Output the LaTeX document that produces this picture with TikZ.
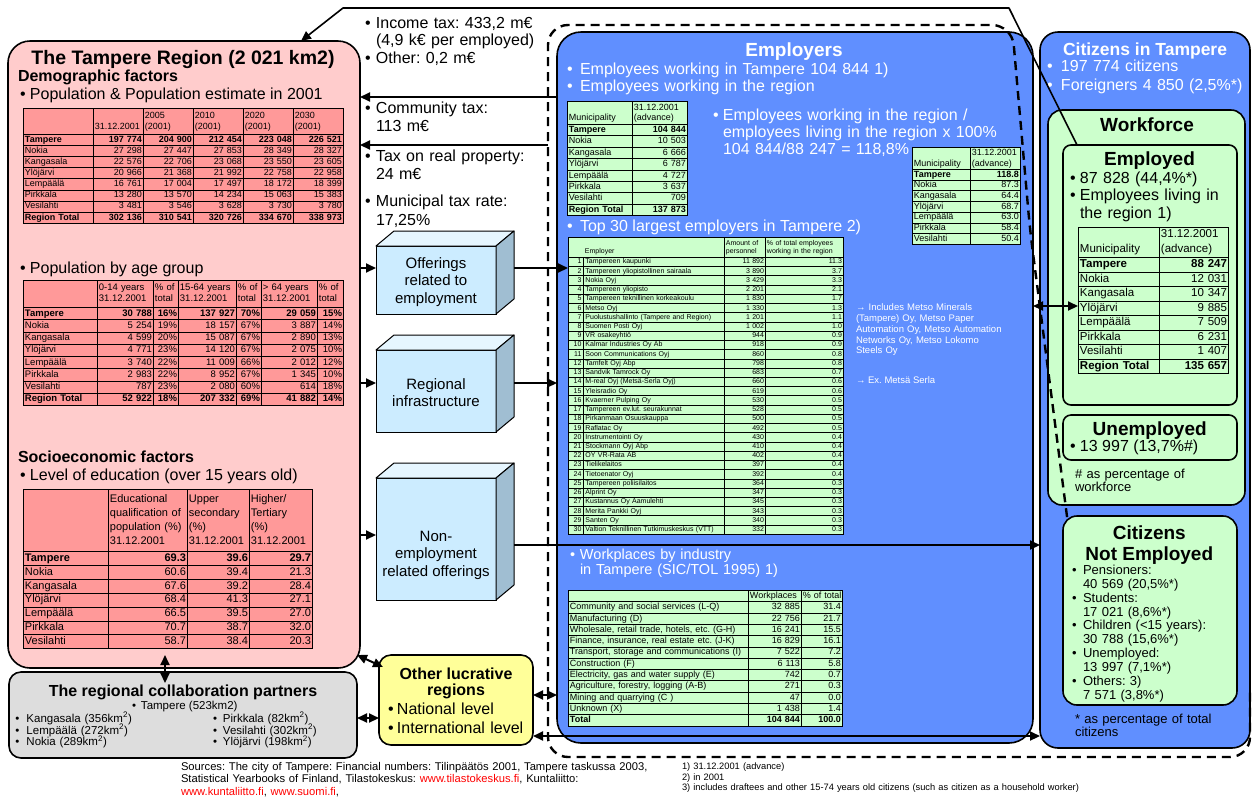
\documentclass[tikz,border=0pt]{standalone}
\usepackage{fontspec}
\setmainfont{Liberation Sans}
\usetikzlibrary{matrix,arrows.meta}

\definecolor{pinkbg}{RGB}{255,204,204}
\definecolor{pinktab}{RGB}{255,153,153}
\definecolor{graybg}{RGB}{221,221,221}
\definecolor{yellowbg}{RGB}{255,255,153}
\definecolor{bluebg}{RGB}{96,143,255}
\definecolor{greenbg}{RGB}{204,255,204}
\definecolor{cfront}{RGB}{204,236,255}
\definecolor{ctop}{RGB}{230,246,255}
\definecolor{cside}{RGB}{160,190,210}
\definecolor{linkred}{RGB}{255,0,0}

\newcommand\fsz[2]{\fontsize{#1}{#2}\selectfont}
\newcommand\bulletbox[1]{\makebox[#1][l]{•}}
\newcommand\empno[1]{\makebox[11.5pt][r]{#1}\hspace{4pt}}

\tikzset{
  panel/.style={draw, line width=1.6pt, anchor=north west, inner sep=0pt, outer sep=0pt},
  lbl/.style={anchor=base west, inner sep=0pt, outer sep=0pt},
  para/.style={anchor=base west, inner sep=0pt, outer sep=0pt, align=left, text width=#1},
  ttl/.style={anchor=base, inner sep=0pt, outer sep=0pt},
  tbl/.style n args={5}{matrix of nodes, nodes in empty cells, anchor=north west,
    row sep=-0.9pt, column sep=-0.9pt, inner sep=0pt, outer sep=0pt,
    nodes={draw, line width=0.9pt, anchor=center, inner xsep=1.5pt, inner ysep=0pt,
      outer sep=0pt, font=\fsz{#1}{#2}, minimum height=#3,
      text height=#4, text depth=#5, align=right}},
  cL/.style 2 args={column #1/.style={nodes={text width=#2-3pt, align=left}}},
  cR/.style 2 args={column #1/.style={nodes={text width=#2-3pt}}},
  headrow/.style 2 args={row 1/.style={nodes={minimum height=#1, text depth=#2, align=left}}},
  boldrow/.style={row #1/.style={nodes={execute at begin node=\bfseries}}},
  cubebox/.style={draw, line width=1pt, fill=cfront, inner sep=0pt, outer sep=0pt},
  cubeedge/.style={draw, line width=1pt, line join=round},
  cubetxt/.style={align=center, inner sep=0pt, font=\fsz{15}{17.5}},
  arr/.style={line width=2pt, -{Triangle[length=10pt,width=9pt]}},
  darr/.style={line width=2pt, {Triangle[length=10pt,width=9pt]}-{Triangle[length=10pt,width=9pt]}},
  dashline/.style={line width=2.4pt, dash pattern=on 9pt off 6pt, rounded corners=20pt},
}

% a box drawn in perspective: front face node plus top and side faces
\newcommand\drawcube[5]{%
  \node[cubebox, minimum width=#4, minimum height=#5] (#1) at (#2,#3) {};
  \filldraw[cubeedge, fill=ctop] (#1.north west) -- ++(18,-15) -- ++(#4,0) -- (#1.north east) -- cycle;
  \filldraw[cubeedge, fill=cside] (#1.north east) -- ++(18,-15) -- ++(0,#5) -- (#1.south east) -- cycle;
  \coordinate (#1r) at ([xshift=18pt]#1.east);
}

\begin{document}
\frenchspacing
\begin{tikzpicture}[x=1pt,y=-1pt]
\useasboundingbox (0,0) rectangle (1252,796);

% ---------- panels ----------
\node[panel, fill=pinkbg, rounded corners=22pt, minimum width=352, minimum height=627] (region) at (8,41) {};
\node[panel, fill=graybg, rounded corners=12pt, minimum width=348, minimum height=86] (partners) at (9,672) {};
\node[panel, fill=yellowbg, rounded corners=12pt, minimum width=154, minimum height=90] (lucr) at (379,655) {};
\node[panel, fill=bluebg, rounded corners=24pt, minimum width=476, minimum height=711] (employers) at (557,32) {};
\node[panel, fill=bluebg, rounded corners=18pt, minimum width=210, minimum height=716] (citizens) at (1040,32) {};
\node[panel, fill=greenbg, rounded corners=14pt, minimum width=197, minimum height=395] (workforce) at (1048,110) {};
\node[panel, fill=greenbg, rounded corners=8pt, minimum width=174, minimum height=260] (employed) at (1063,145) {};
\node[panel, fill=greenbg, rounded corners=8pt, minimum width=174, minimum height=45] (unemployed) at (1063,415) {};

% ---------- offering boxes ----------
\drawcube{cube1}{436}{280}{120}{68}
\drawcube{cube2}{436}{391}{120}{82}
\drawcube{cube3}{436}{539}{120}{122}
\node[cubetxt] (cube1t) at (436,282) {Offerings\\related to\\employment};
\node[cubetxt] (cube2t) at (436,392.5) {Regional\\infrastructure};
\node[cubetxt] (cube3t) at (436,555) {Non-\\employment\\related offerings};

% ---------- Tampere region ----------
\node[ttl, font=\fsz{19.5}{22}\bfseries] (regtitle) at (183,64.5) {The Tampere Region (2 021 km2)};
\node[lbl, font=\fsz{16}{18}\bfseries] (demo) at (18,81.5) {Demographic factors};
\node[lbl, font=\fsz{16}{18}] (popest) at (20,99) {\bulletbox{10pt}Population \& Population estimate in 2001};

\matrix (poptab) [tbl={9}{11}{11.1pt}{6.7pt}{2pt}, nodes={fill=pinktab},
  cL={1}{70pt}, cR={2}{50pt}, cR={3}{50pt}, cR={4}{50pt}, cR={5}{50pt}, cR={6}{50pt},
  headrow={26pt}{13pt}, boldrow=2, boldrow=9] at (23,108) {
  & {\mbox{}\\31.12.2001} & {2005\\(2001)} & {2010\\(2001)} & {2020\\(2001)} & {2030\\(2001)} \\
  Tampere & 197 774 & 204 900 & 212 454 & 223 048 & 226 521 \\
  Nokia & 27 298 & 27 447 & 27 853 & 28 349 & 28 327 \\
  Kangasala & 22 576 & 22 706 & 23 068 & 23 550 & 23 605 \\
  Ylöjärvi & 20 966 & 21 368 & 21 992 & 22 758 & 22 958 \\
  Lempäälä & 16 761 & 17 004 & 17 497 & 18 172 & 18 399 \\
  Pirkkala & 13 280 & 13 570 & 14 234 & 15 063 & 15 383 \\
  Vesilahti & 3 481 & 3 546 & 3 628 & 3 730 & 3 780 \\
  Region Total & 302 136 & 310 541 & 320 726 & 334 670 & 338 973 \\
};

\node[lbl, font=\fsz{16}{18}] (popage) at (20,273.3) {\bulletbox{10pt}Population by age group};
\matrix (agetab) [tbl={9.5}{11}{12.25pt}{7pt}{2.1pt}, nodes={fill=pinktab},
  cL={1}{74pt}, cR={2}{56pt}, cR={3}{25pt}, cR={4}{58pt}, cR={5}{25pt}, cR={6}{56pt}, cR={7}{26pt},
  headrow={27pt}{13.1pt}, boldrow=2, boldrow=9] at (23,280) {
  & {0-14 years\\31.12.2001} & {\% of\\total} & {15-64 years\\31.12.2001} & {\% of\\total} & {> 64 years\\31.12.2001} & {\% of\\total} \\
  Tampere & 30 788 & 16\% & 137 927 & 70\% & 29 059 & 15\% \\
  Nokia & 5 254 & 19\% & 18 157 & 67\% & 3 887 & 14\% \\
  Kangasala & 4 599 & 20\% & 15 087 & 67\% & 2 890 & 13\% \\
  Ylöjärvi & 4 771 & 23\% & 14 120 & 67\% & 2 075 & 10\% \\
  Lempäälä & 3 740 & 22\% & 11 009 & 66\% & 2 012 & 12\% \\
  Pirkkala & 2 983 & 22\% & 8 952 & 67\% & 1 345 & 10\% \\
  Vesilahti & 787 & 23\% & 2 080 & 60\% & 614 & 18\% \\
  Region Total & 52 922 & 18\% & 207 332 & 69\% & 41 882 & 14\% \\
};

\node[lbl, font=\fsz{16}{18}\bfseries] (socio) at (18,462.7) {Socioeconomic factors};
\node[lbl, font=\fsz{16}{18}] (edu) at (20,480) {\bulletbox{10pt}Level of education (over 15 years old)};
\matrix (edutab) [tbl={11}{13.8}{13.9pt}{8.1pt}{2.4pt}, nodes={fill=pinktab},
  cL={1}{85pt}, cR={2}{79pt}, cR={3}{62pt}, cR={4}{63pt},
  headrow={62pt}{43.8pt}, boldrow=2] at (23,489) {
  & {Educational\\qualification of\\population (\%)\\31.12.2001} & {Upper\\secondary\\(\%)\\31.12.2001} & {Higher/\\Tertiary\\(\%)\\31.12.2001} \\
  Tampere & 69.3 & 39.6 & 29.7 \\
  Nokia & 60.6 & 39.4 & 21.3 \\
  Kangasala & 67.6 & 39.2 & 28.4 \\
  Ylöjärvi & 68.4 & 41.3 & 27.1 \\
  Lempäälä & 66.5 & 39.5 & 27.0 \\
  Pirkkala & 70.7 & 38.7 & 32.0 \\
  Vesilahti & 58.7 & 38.4 & 20.3 \\
};

% ---------- tax flows ----------
\node[para=185pt, font=\fsz{16}{17.5}] (taxinc) at (365,28.3) {\bulletbox{11pt}Income tax: 433,2 m€\\\hspace*{11pt}(4,9 k€ per employed)\\\bulletbox{11pt}Other: 0,2 m€};
\node[para=185pt, font=\fsz{16}{18.4}] (taxcom) at (365,113.3) {\bulletbox{11pt}Community tax:\\\hspace*{11pt}113 m€};
\node[para=185pt, font=\fsz{16}{18.4}] (taxprop) at (365,161) {\bulletbox{11pt}Tax on real property:\\\hspace*{11pt}24 m€};
\node[para=185pt, font=\fsz{16}{18.4}] (taxrate) at (365,206.7) {\bulletbox{11pt}Municipal tax rate:\\\hspace*{11pt}17,25\%};

% ---------- employers ----------
\node[ttl, font=\fsz{19}{22}\bfseries, text=white] (emptitle) at (794,56) {Employers};
\node[para=330pt, font=\fsz{16}{17.7}, text=white] (empb) at (567,74) {\bulletbox{13pt}Employees working in Tampere 104 844 1)\\\bulletbox{13pt}Employees working in the region};
\node[para=300pt, font=\fsz{16}{17.2}, text=white] (empratio) at (713,120) {\bulletbox{10pt}Employees working in the region /\\\hspace*{10pt}employees living in the region x 100\%\\\hspace*{10pt}104 844/88 247 = 118,8\%};

\matrix (emptab) [tbl={9}{10.5}{11.4pt}{6.7pt}{2pt}, nodes={fill=greenbg},
  cL={1}{65pt}, cR={2}{55pt}, headrow={23pt}{12.5pt}, boldrow=2, boldrow=9] at (567,101) {
  {\mbox{}\\Municipality} & {31.12.2001\\(advance)} \\
  Tampere & 104 844 \\
  Nokia & 10 503 \\
  Kangasala & 6 666 \\
  Ylöjärvi & 6 787 \\
  Lempäälä & 4 727 \\
  Pirkkala & 3 637 \\
  Vesilahti & 709 \\
  Region Total & 137 873 \\
};

\matrix (ratiotab) [tbl={9}{10.5}{10.7pt}{6.7pt}{2pt}, nodes={fill=greenbg},
  cL={1}{58pt}, cR={2}{50pt}, headrow={22pt}{12.5pt}, boldrow=2] at (912,147) {
  {\mbox{}\\Municipality} & {31.12.2001\\(advance)} \\
  Tampere & 118.8 \\
  Nokia & 87.3 \\
  Kangasala & 64.4 \\
  Ylöjärvi & 68.7 \\
  Lempäälä & 63.0 \\
  Pirkkala & 58.4 \\
  Vesilahti & 50.4 \\
};

\node[lbl, font=\fsz{16}{18}, text=white] (top30t) at (567,231.6) {\bulletbox{13pt}Top 30 largest employers in Tampere 2)};
\matrix (t30) [tbl={7}{8}{9.23pt}{5.2pt}{1.5pt}, nodes={fill=greenbg},
  cL={1}{156pt}, cR={2}{41pt}, cR={3}{78pt}, headrow={20pt}{9.5pt}] at (568,237) {
  {\mbox{}\\\hspace*{15pt}Employer} & {Amount of\\personnel} & {\% of total employees\\working in the region} \\
  \empno{1}Tampereen kaupunki & 11 892 & 11.3 \\
  \empno{2}Tampereen yliopistollinen sairaala & 3 890 & 3.7 \\
  \empno{3}Nokia Oyj & 3 429 & 3.3 \\
  \empno{4}Tampereen yliopisto & 2 201 & 2.1 \\
  \empno{5}Tampereen teknillinen korkeakoulu & 1 830 & 1.7 \\
  \empno{6}Metso Oyj & 1 330 & 1.3 \\
  \empno{7}Puolustushallinto (Tampere and Region) & 1 201 & 1.1 \\
  \empno{8}Suomen Posti Oyj & 1 002 & 1.0 \\
  \empno{9}VR osakeyhtiö & 944 & 0.9 \\
  \empno{10}Kalmar Industries Oy Ab & 918 & 0.9 \\
  \empno{11}Soon Communications Oyj & 860 & 0.8 \\
  \empno{12}Tamfelt Oyj Abp & 798 & 0.8 \\
  \empno{13}Sandvik Tamrock Oy & 683 & 0.7 \\
  \empno{14}M-real Oyj (Metsä-Serla Oyj) & 660 & 0.6 \\
  \empno{15}Yleisradio Oy & 619 & 0.6 \\
  \empno{16}Kvaerner Pulping Oy & 530 & 0.5 \\
  \empno{17}Tampereen ev.lut. seurakunnat & 528 & 0.5 \\
  \empno{18}Pirkanmaan Osuuskauppa & 500 & 0.5 \\
  \empno{19}Raflatac Oy & 492 & 0.5 \\
  \empno{20}Instrumentointi Oy & 430 & 0.4 \\
  \empno{21}Stockmann Oyj Abp & 410 & 0.4 \\
  \empno{22}OY VR-Rata AB & 402 & 0.4 \\
  \empno{23}Tielikelaitos & 397 & 0.4 \\
  \empno{24}Tietoenator Oyj & 392 & 0.4 \\
  \empno{25}Tampereen poliisilaitos & 364 & 0.3 \\
  \empno{26}Alprint Oy & 347 & 0.3 \\
  \empno{27}Kustannus Oy Aamulehti & 345 & 0.3 \\
  \empno{28}Merita Pankki Oyj & 343 & 0.3 \\
  \empno{29}Santen Oy & 340 & 0.3 \\
  \empno{30}Valtion Teknillinen Tutkimuskeskus (VTT) & 332 & 0.3 \\
};
\draw[line width=0.9pt] ([xshift=15pt]t30-2-1.north west) -- ([xshift=15pt]t30-31-1.south west);

\node[para=180pt, font=\fsz{9.5}{10.8}, text=white] (metso) at (856,310.7) {→ Includes Metso Minerals\\(Tampere) Oy, Metso Paper\\Automation Oy, Metso Automation\\Networks Oy, Metso Lokomo\\Steels Oy};
\node[lbl, font=\fsz{9.5}{10.8}, text=white] (metsa) at (856,383.3) {→ Ex. Metsä Serla};

\node[para=260pt, font=\fsz{14.5}{15}, text=white] (wpt) at (570,559.3) {\bulletbox{10pt}Workplaces by industry\\\hspace*{10pt}in Tampere (SIC/TOL 1995) 1)};
\matrix (wptab) [tbl={9}{11}{11.3pt}{6.7pt}{2pt}, nodes={fill=greenbg},
  cL={1}{180pt}, cR={2}{53pt}, cR={3}{41pt}, headrow={11.3pt}{2pt}, boldrow=12] at (568,590) {
  & Workplaces & \mbox{\% of total} \\
  Community and social services (L-Q) & 32 885 & 31.4 \\
  Manufacturing (D) & 22 756 & 21.7 \\
  Wholesale, retail trade, hotels, etc. (G-H) & 16 241 & 15.5 \\
  Finance, insurance, real estate etc. (J-K) & 16 829 & 16.1 \\
  Transport, storage and communications (I) & 7 522 & 7.2 \\
  Construction (F) & 6 113 & 5.8 \\
  Electricity, gas and water supply (E) & 742 & 0.7 \\
  Agriculture, forestry, logging (A-B) & 271 & 0.3 \\
  Mining and quarrying (C ) & 47 & 0.0 \\
  Unknown (X) & 1 438 & 1.4 \\
  Total & 104 844 & 100.0 \\
};

% ---------- citizens ----------
\node[ttl, font=\fsz{17.5}{20}\bfseries, text=white] (cittitle) at (1145,55) {Citizens in Tampere};
\node[para=205pt, font=\fsz{16}{18.3}, text=white] (citb) at (1047,71.7) {\bulletbox{14pt}197 774 citizens\\\bulletbox{14pt}Foreigners 4 850 (2,5\%*)};
\node[ttl, font=\fsz{19}{22}\bfseries] (wftitle) at (1147,131.7) {Workforce};
\node[ttl, font=\fsz{19}{22}\bfseries] (emdtitle) at (1149.5,165) {Employed};
\node[para=165pt, font=\fsz{16}{17.5}] (emdb) at (1070,183.3) {\bulletbox{10pt}87 828 (44,4\%*)\\\bulletbox{10pt}Employees living in\\\hspace*{10pt}the region 1)};
\matrix (mtab) [tbl={11.5}{15}{14.5pt}{8.5pt}{2.5pt}, nodes={fill=greenbg},
  cL={1}{81pt}, cR={2}{69pt}, headrow={30pt}{17.5pt}, boldrow=2, boldrow=9] at (1078,227) {
  {\mbox{}\\Municipality} & {31.12.2001\\(advance)} \\
  Tampere & 88 247 \\
  Nokia & 12 031 \\
  Kangasala & 10 347 \\
  Ylöjärvi & 9 885 \\
  Lempäälä & 7 509 \\
  Pirkkala & 6 231 \\
  Vesilahti & 1 407 \\
  Region Total & 135 657 \\
};
\node[ttl, font=\fsz{19}{22}\bfseries] (unemtitle) at (1149.7,435) {Unemployed};
\node[lbl, font=\fsz{16}{18}] (unemb) at (1070,451.7) {\bulletbox{10pt}13 997 (13,7\%\#)};
\node[para=165pt, font=\fsz{13}{13.4}] (wfnote) at (1075,478.3) {\# as percentage of\\workforce};

% ---------- partners and other regions ----------
\node[ttl, font=\fsz{16}{18}\bfseries] (parttitle) at (183,696) {The regional collaboration partners};
\node[lbl, font=\fsz{11.5}{12}] (parttre) at (132,709.7) {\bulletbox{9pt}Tampere (523km2)};
\node[para=190pt, font=\fsz{11.5}{11.7}, execute at begin node={\lineskiplimit=-20pt}] (partl) at (15.5,722.3) {\bulletbox{11pt}Kangasala (356km\textsuperscript{2})\\\bulletbox{11pt}Lempäälä (272km\textsuperscript{2})\\\bulletbox{11pt}Nokia (289km\textsuperscript{2})};
\node[para=140pt, font=\fsz{11.5}{11.7}, execute at begin node={\lineskiplimit=-20pt}] (partr) at (213,722.3) {\bulletbox{10pt}Pirkkala (82km\textsuperscript{2})\\\bulletbox{10pt}Vesilahti (302km\textsuperscript{2})\\\bulletbox{10pt}Ylöjärvi (198km\textsuperscript{2})};

\node[ttl, font=\fsz{16}{17}\bfseries] (lucrt1) at (456,679) {Other lucrative};
\node[ttl, font=\fsz{16}{17}\bfseries] (lucrt2) at (456,695.6) {regions};
\node[para=150pt, font=\fsz{16}{18.4}] (lucrb) at (388,714.6) {\bulletbox{9pt}National level\\\bulletbox{9pt}International level};

% ---------- sources and notes ----------
\node[para=490pt, font=\fsz{11.2}{12.2}] (src) at (181,770.7) {Sources: The city of Tampere: Financial numbers: Tilinpäätös 2001, Tampere taskussa 2003,\\Statistical Yearbooks of Finland, Tilastokeskus: \textcolor{linkred}{www.tilastokeskus.fi}, Kuntaliitto:\\\textcolor{linkred}{www.kuntaliitto.fi}, \textcolor{linkred}{www.suomi.fi},};
\node[para=480pt, font=\fsz{9.3}{10.5}] (fnotes) at (682,769.5) {1) 31.12.2001 (advance)\\2) in 2001\\3) includes draftees and other 15-74 years old citizens (such as citizen as a  household worker)};

% ---------- connectors ----------
\coordinate (lvTax1) at (0,97);
\coordinate (lvTax2) at (548,145);
\coordinate (lvC1) at (0,268);
\coordinate (lvC2) at (0,383);
\coordinate (lvC3in) at (0,535);
\coordinate (lvC3) at (0,545);
\coordinate (lvEmp) at (0,306);
\coordinate (lvPart) at (0,718);
\coordinate (lvLuc1) at (0,695);
\coordinate (lvLuc2) at (0,736);
\coordinate (regBot) at (165,655);
\coordinate (partTop) at (165,683);
\coordinate (regCorner) at (357,655);
\coordinate (lucrCorner) at (383,667);
\coordinate (bendR) at (1009,8);
\coordinate (bendL) at (343,8);
\coordinate (tipX) at (301,0);

\draw[arr] (employers.west |- lvTax1) -- (region.east |- lvTax1);
\draw[arr] (lvTax2) -- (region.east |- lvTax2);
\draw[arr] (region.east |- lvC1) -- (cube1.west |- lvC1);
\draw[arr] (region.east |- lvC2) -- (cube2.west |- lvC2);
\draw[arr] (region.east |- lvC3in) -- (cube3.west |- lvC3in);
\draw[arr] (cube1r |- lvC1) -- (t30.west |- lvC1);
\draw[arr] (cube2r |- lvC2) -- (employers.west |- lvC2);
\draw[arr] (cube3r |- lvC3) -- (citizens.west |- lvC3);
\draw[darr] (employers.east |- lvEmp) -- (mtab.west |- lvEmp);
\draw[darr] (regBot) -- (partTop);
\draw[darr] (regCorner) -- (lucrCorner);
\draw[darr] (partners.east |- lvPart) -- (lucr.west |- lvPart);
\draw[darr] (lucr.east |- lvLuc1) -- (employers.west |- lvLuc1);
\draw[darr] (lucr.east |- lvLuc2) -- (citizens.west |- lvLuc2);
\draw[arr, line width=1.6pt, line join=round] ([xshift=14pt]employed.north west) -- (bendR) -- (bendL) -- (region.north -| tipX);

% boundary of the municipal economy
\draw[dashline] (1069,532) -- (1030,230) -- (1012,25) -- (548,25) -- (548,757) -- (1250,757) -- (1250,690);

% ---------- citizens not employed ----------
\node[panel, fill=greenbg, rounded corners=14pt, minimum width=174, minimum height=189] (notemp) at (1063,516) {};
\node[ttl, font=\fsz{19}{21}\bfseries] (netitle1) at (1149.3,539.3) {Citizens};
\node[ttl, font=\fsz{19}{21}\bfseries] (netitle2) at (1149.3,560) {Not Employed};
\node[para=165pt, font=\fsz{13}{13.9}] (nelist) at (1072,574.3) {\bulletbox{11pt}Pensioners:\\\hspace*{11pt}40 569 (20,5\%*)\\\bulletbox{11pt}Students:\\\hspace*{11pt}17 021 (8,6\%*)\\\bulletbox{11pt}Children (<15 years):\\\hspace*{11pt}30 788 (15,6\%*)\\\bulletbox{11pt}Unemployed:\\\hspace*{11pt}13 997 (7,1\%*)\\\bulletbox{11pt}Others: 3)\\\hspace*{11pt}7 571 (3,8\%*)};
\node[para=170pt, font=\fsz{13}{12.7}] (citnote) at (1075,723.3) {* as percentage of total\\citizens};

\end{tikzpicture}
\end{document}
